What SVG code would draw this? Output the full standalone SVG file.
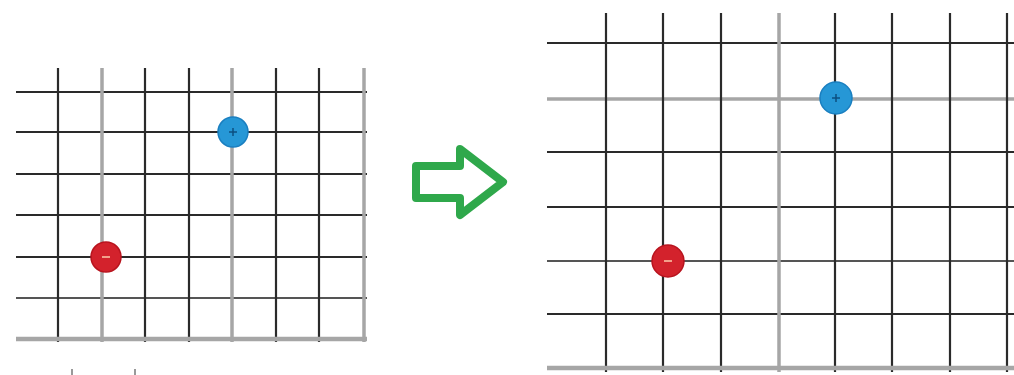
<svg xmlns="http://www.w3.org/2000/svg" width="1014" height="375" viewBox="0 0 1014 375">
<style>
.d{stroke:#2a2a2a;stroke-width:2.2;fill:none}
.g{stroke:#a6a6a6;stroke-width:3.5;fill:none}
.gb{stroke:#a6a6a6;stroke-width:4.5;fill:none}
.blue{fill:#2697d6;stroke:#1a7fc0;stroke-width:1.5}
.red{fill:#d3222c;stroke:#b8141e;stroke-width:1.5}
.arrow{fill:#ffffff;stroke:#2fa84b;stroke-width:8;stroke-linejoin:round}
</style>
<rect width="1014" height="375" fill="#ffffff"/>
<g id="left-grid">
<line class="d" x1="16" y1="92" x2="367" y2="92"/>
<line class="d" x1="16" y1="132" x2="367" y2="132"/>
<line class="d" x1="16" y1="174" x2="367" y2="174"/>
<line class="d" x1="16" y1="215" x2="367" y2="215"/>
<line class="d" x1="16" y1="257" x2="367" y2="257"/>
<line class="d" x1="16" y1="298" x2="367" y2="298" style="stroke:#555"/>
<line class="d" x1="58" y1="68" x2="58" y2="342"/>
<line class="g" x1="102" y1="68" x2="102" y2="342"/>
<line class="d" x1="145" y1="68" x2="145" y2="342"/>
<line class="d" x1="189" y1="68" x2="189" y2="342"/>
<line class="g" x1="232" y1="68" x2="232" y2="342"/>
<line class="d" x1="276" y1="68" x2="276" y2="342"/>
<line class="d" x1="319" y1="68" x2="319" y2="342"/>
<line class="g" x1="364" y1="68" x2="364" y2="342"/>
<line class="gb" x1="16" y1="339" x2="367" y2="339"/>
<line stroke="#777" stroke-width="1.5" x1="72" y1="369" x2="72" y2="375"/>
<line stroke="#777" stroke-width="1.5" x1="135" y1="369" x2="135" y2="375"/>
</g>
<g id="left-blue">
<circle class="blue" cx="233" cy="132" r="15"/>
<line stroke="#0d4f80" stroke-width="1.5" x1="229" y1="132" x2="237" y2="132"/>
<line stroke="#0d4f80" stroke-width="1.5" x1="233" y1="128" x2="233" y2="136"/>
</g>
<g id="left-red">
<circle class="red" cx="106" cy="257" r="15"/>
<line stroke="#f2a08a" stroke-width="2" x1="102" y1="257" x2="110" y2="257"/>
</g>
<g id="connectors">
<polygon class="arrow" points="416,166 460,166 460,149 503,182 460,215 460,198 416,198"/>
</g>
<g id="right-grid">
<line class="d" x1="547" y1="43" x2="1014" y2="43"/>
<line class="g" x1="547" y1="99" x2="1014" y2="99"/>
<line class="d" x1="547" y1="152" x2="1014" y2="152"/>
<line class="d" x1="547" y1="207" x2="1014" y2="207"/>
<line class="d" x1="547" y1="261" x2="1014" y2="261" style="stroke:#555"/>
<line class="d" x1="547" y1="314" x2="1014" y2="314"/>
<line class="d" x1="606" y1="13" x2="606" y2="372"/>
<line class="d" x1="663" y1="13" x2="663" y2="372"/>
<line class="d" x1="721" y1="13" x2="721" y2="372"/>
<line class="g" x1="779" y1="13" x2="779" y2="372"/>
<line class="d" x1="835" y1="13" x2="835" y2="372"/>
<line class="d" x1="892" y1="13" x2="892" y2="372"/>
<line class="d" x1="950" y1="13" x2="950" y2="372"/>
<line class="d" x1="1007" y1="13" x2="1007" y2="372"/>
<line class="gb" x1="547" y1="368" x2="1014" y2="368"/>
</g>
<g id="right-blue">
<circle class="blue" cx="836" cy="98" r="16"/>
<line stroke="#0d4f80" stroke-width="1.5" x1="832" y1="98" x2="840" y2="98"/>
<line stroke="#0d4f80" stroke-width="1.5" x1="836" y1="94" x2="836" y2="102"/>
</g>
<g id="right-red">
<circle class="red" cx="668" cy="261" r="16"/>
<line stroke="#f2a08a" stroke-width="2" x1="664" y1="261" x2="672" y2="261"/>
</g>
</svg>
